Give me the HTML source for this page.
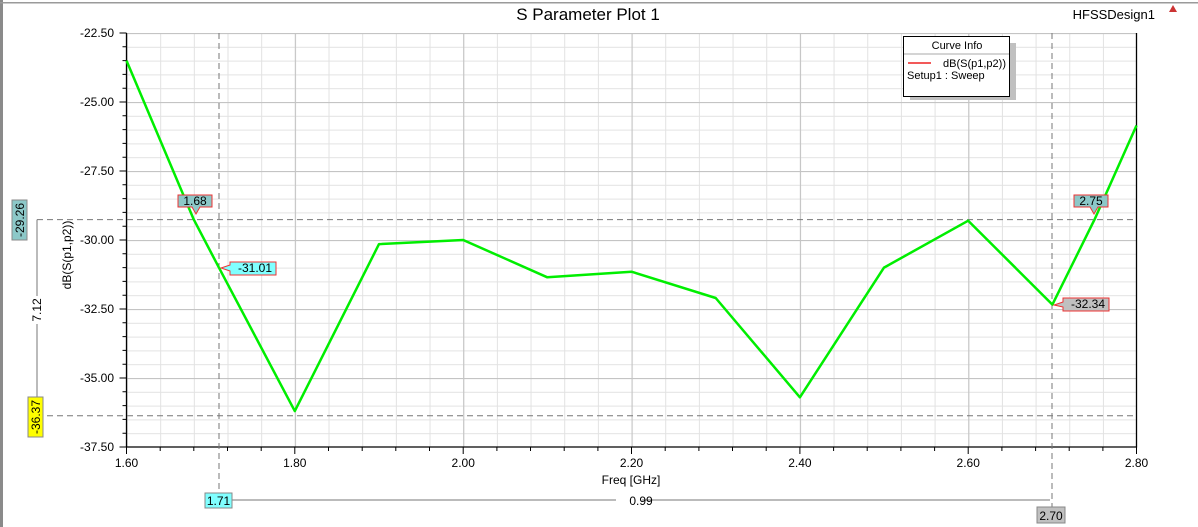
<!DOCTYPE html>
<html><head><style>
body{margin:0;background:#fff;}
svg{display:block;font-family:"Liberation Sans",Arial,sans-serif;}
</style></head><body>
<svg width="1198" height="527" viewBox="0 0 1198 527">
<defs>
<pattern id="mi" x="126.5" y="33" width="33.67" height="13.8" patternUnits="userSpaceOnUse">
<path d="M0.5 0V13.8M0 0.5H33.67" stroke="#e2e2e2" stroke-width="1" fill="none"/>
</pattern>
<pattern id="ma" x="126.5" y="33" width="168.35" height="69" patternUnits="userSpaceOnUse">
<path d="M0.5 0V69M0 0.5H168.35" stroke="#c4c4c4" stroke-width="1.2" fill="none"/>
</pattern>
</defs>
<rect x="0" y="0" width="3" height="527" fill="#8a8a8a"/>
<rect x="0" y="2" width="1198" height="1.5" fill="#9a9a9a"/>
<text x="588" y="20" font-size="17" text-anchor="middle">S Parameter Plot 1</text>
<text x="1155" y="19" font-size="13" text-anchor="end">HFSSDesign1</text>
<path d="M1173 5l4 7h-8z" fill="#c33"/>
<rect x="126.5" y="33" width="1010" height="414" fill="url(#mi)"/>
<rect x="126.5" y="33" width="1010" height="414" fill="url(#ma)"/>
<path d="M126.5 33V447H1136.5V33" stroke="#000" stroke-width="1.3" fill="none"/>
<g stroke="#000" stroke-width="1">
<path d="M126.5 447v7M294.8 447v7M463.2 447v7M631.5 447v7M799.9 447v7M968.2 447v7M1136.5 447v7"/>
<path d="M160.2 447v4M193.8 447v4M227.5 447v4M261.2 447v4M328.5 447v4M362.2 447v4M395.8 447v4M429.5 447v4M496.9 447v4M530.5 447v4M564.2 447v4M597.9 447v4M665.2 447v4M698.9 447v4M732.5 447v4M766.2 447v4M833.6 447v4M867.2 447v4M900.9 447v4M934.6 447v4M1001.9 447v4M1035.6 447v4M1069.2 447v4M1102.9 447v4"/>
<path d="M119.5 33h7M119.5 102h7M119.5 171h7M119.5 240h7M119.5 309h7M119.5 378h7M119.5 447h7"/>
<path d="M122.5 46.8h4M122.5 60.6h4M122.5 74.4h4M122.5 88.2h4M122.5 115.8h4M122.5 129.6h4M122.5 143.4h4M122.5 157.2h4M122.5 184.8h4M122.5 198.6h4M122.5 212.4h4M122.5 226.2h4M122.5 253.8h4M122.5 267.6h4M122.5 281.4h4M122.5 295.2h4M122.5 322.8h4M122.5 336.6h4M122.5 350.4h4M122.5 364.2h4M122.5 391.8h4M122.5 405.6h4M122.5 419.4h4M122.5 433.2h4"/>
</g>
<g font-size="12" text-anchor="end">
<text x="114" y="37">-22.50</text><text x="114" y="106">-25.00</text><text x="114" y="175">-27.50</text>
<text x="114" y="244">-30.00</text><text x="114" y="313">-32.50</text><text x="114" y="382">-35.00</text><text x="114" y="451">-37.50</text>
</g>
<g font-size="12" text-anchor="middle">
<text x="126.5" y="467">1.60</text><text x="294.8" y="467">1.80</text><text x="463.2" y="467">2.00</text>
<text x="631.5" y="467">2.20</text><text x="799.9" y="467">2.40</text><text x="968.2" y="467">2.60</text><text x="1136.5" y="467">2.80</text>
<text x="631" y="484">Freq [GHz]</text>
</g>
<text transform="translate(71 255) rotate(-90)" font-size="12" text-anchor="middle">dB(S(p1,p2))</text>
<g stroke="#777" stroke-width="1" stroke-dasharray="6,4" fill="none">
<path d="M219 33V500M1052 33V507"/>
<path d="M37 219.6H1137M37 415.8H1137"/>
</g>
<path d="M37 219.6V415.8" stroke="#777"/>
<path d="M232 500H1050" stroke="#777"/>
<rect x="31" y="296" width="12" height="28" fill="#fff"/>
<text transform="translate(41 310) rotate(-90)" font-size="12" text-anchor="middle">7.12</text>
<rect x="12" y="200" width="15" height="40" fill="#8cc8c8" stroke="#888"/>
<text transform="translate(24 220) rotate(-90)" font-size="12" text-anchor="middle">-29.26</text>
<rect x="28" y="397" width="15" height="40" fill="#ffff00" stroke="#888"/>
<text transform="translate(40 417) rotate(-90)" font-size="12" text-anchor="middle">-36.37</text>
<rect x="616" y="494" width="26" height="12" fill="#fff"/>
<text x="641" y="505" font-size="12" text-anchor="middle">0.99</text>
<rect x="205" y="493" width="27" height="15" fill="#80ffff" stroke="#888"/>
<text x="218.5" y="505" font-size="12" text-anchor="middle">1.71</text>
<rect x="1037" y="507" width="28" height="16" fill="#c0c0c0" stroke="#888"/>
<text x="1051" y="520" font-size="12" text-anchor="middle">2.70</text>
<polyline points="126.5,60.6 193.8,219.6 219.1,267.9 294.8,411.1 379,244.1 463.2,240 547.3,277.3 631.5,271.7 715.7,298 799.9,397.3 884,267.6 968.2,220.7 1052.4,304.6 1094.5,219.6 1136.5,125.5" fill="none" stroke="#00ee00" stroke-width="2.5" stroke-linejoin="round"/>
<path d="M178 195H212V207H200L196 214L192 207H178Z" fill="#8cc8c8" stroke="#e33"/>
<text x="195" y="205" font-size="12" text-anchor="middle">1.68</text>
<path d="M1074 195H1108V207H1098L1094 214L1090 207H1074Z" fill="#8cc8c8" stroke="#e33"/>
<text x="1091" y="205" font-size="12" text-anchor="middle">2.75</text>
<path d="M230 262H276V275H230V271L221 268L230 265Z" fill="#80ffff" stroke="#e33"/>
<text x="255" y="272" font-size="12" text-anchor="middle">-31.01</text>
<path d="M1063 298H1109V311H1063V307L1054 305L1063 302Z" fill="#c0c0c0" stroke="#e33"/>
<text x="1088" y="308" font-size="12" text-anchor="middle">-32.34</text>
<rect x="910" y="43" width="106" height="57" fill="#c0c0c0"/>
<rect x="903.5" y="36.5" width="106" height="60" fill="#fff" stroke="#000"/>
<text x="957" y="49" font-size="11" text-anchor="middle">Curve Info</text>
<path d="M904 54H1009" stroke="#aaa"/>
<path d="M908 63H931" stroke="#e22" stroke-width="1.5"/>
<text x="1006" y="67" font-size="11" text-anchor="end">dB(S(p1,p2))</text>
<text x="907" y="79" font-size="11">Setup1 : Sweep</text>
</svg>
</body></html>
